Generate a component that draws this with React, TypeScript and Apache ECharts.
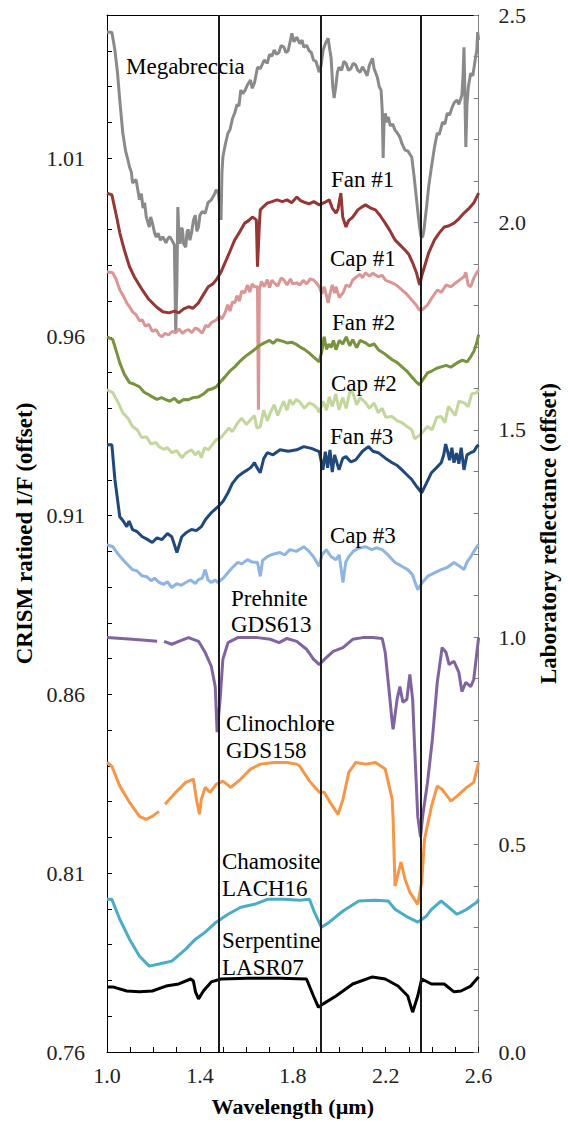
import React, { useEffect, useRef } from "react";
import * as echarts from "echarts";

type Pt = [number, number | null];

const xMin = 1.0;
const xMax = 2.6;
const xLabelValues = [1.0, 1.4, 1.8, 2.2, 2.6];
const leftMin = 0.76;
const leftMax = 1.05;
const leftLabelValues = [0.76, 0.81, 0.86, 0.91, 0.96, 1.01];
const rightMin = 0.0;
const rightMax = 2.5;
const rightLabelValues = [0.0, 0.5, 1.0, 1.5, 2.0, 2.5];
const bandLines = [1.475, 1.915, 2.345];

// ---- CRISM spectra (left axis) ----
const megabreccia: Pt[] = [
  [1.0, 1.0452], [1.021, 1.0452], [1.034, 1.0402], [1.045, 1.034], [1.055, 1.0262], [1.068, 1.017],
  [1.08, 1.012], [1.09, 1.0095], [1.097, 1.0075], [1.105, 1.006], [1.11, 1.003], [1.125, 1.004],
  [1.14, 0.9983], [1.148, 1.0], [1.155, 0.996], [1.162, 0.9975], [1.169, 0.9935], [1.182, 0.9907],
  [1.188, 0.9935], [1.195, 0.992], [1.205, 0.989], [1.212, 0.9879], [1.22, 0.989], [1.23, 0.987],
  [1.24, 0.988], [1.254, 0.9863], [1.262, 0.9875], [1.27, 0.988], [1.279, 0.9871], [1.29, 0.9857],
  [1.296, 0.9611], [1.301, 0.975], [1.305, 0.9963], [1.31, 0.988], [1.315, 0.986], [1.32, 0.9905],
  [1.325, 0.99], [1.33, 0.986], [1.339, 0.9851], [1.345, 0.9895], [1.35, 0.99], [1.357, 0.987],
  [1.364, 0.9891], [1.372, 0.9925], [1.38, 0.994], [1.387, 0.9895], [1.394, 0.9907], [1.4, 0.994],
  [1.41, 0.995], [1.423, 0.9946], [1.435, 0.9975], [1.449, 0.9983], [1.46, 0.9995], [1.47, 1.0011],
  [1.48, 1.0], [1.486, 0.996], [1.491, 0.9927], [1.495, 1.006], [1.499, 1.0103], [1.51, 1.014],
  [1.521, 1.017], [1.53, 1.018], [1.54, 1.021], [1.55, 1.0226], [1.56, 1.025], [1.568, 1.0245],
  [1.576, 1.029], [1.585, 1.028], [1.595, 1.029], [1.605, 1.0305], [1.618, 1.0318], [1.625, 1.0295],
  [1.635, 1.031], [1.648, 1.0354], [1.66, 1.035], [1.677, 1.0374], [1.69, 1.0365], [1.7, 1.039],
  [1.71, 1.0385], [1.72, 1.0402], [1.73, 1.039], [1.74, 1.0395], [1.75, 1.0415], [1.762, 1.041],
  [1.77, 1.0395], [1.78, 1.04], [1.79, 1.043], [1.796, 1.0449], [1.805, 1.0425], [1.817, 1.0438],
  [1.83, 1.042], [1.84, 1.043], [1.847, 1.041], [1.86, 1.0415], [1.87, 1.04], [1.88, 1.0395],
  [1.889, 1.0374], [1.9, 1.037], [1.914, 1.034], [1.922, 1.036], [1.93, 1.04], [1.94, 1.042],
  [1.952, 1.0435], [1.96, 1.04], [1.965, 1.038], [1.972, 1.03], [1.978, 1.0268], [1.985, 1.03],
  [1.992, 1.034], [1.999, 1.0354], [2.01, 1.0345], [2.02, 1.037], [2.029, 1.0365], [2.04, 1.0345],
  [2.05, 1.035], [2.06, 1.0365], [2.071, 1.036], [2.08, 1.0345], [2.09, 1.034], [2.1, 1.0355],
  [2.113, 1.034], [2.12, 1.033], [2.13, 1.036], [2.143, 1.0379], [2.15, 1.035], [2.164, 1.0326],
  [2.172, 1.03], [2.18, 1.029], [2.185, 1.0234], [2.189, 1.01], [2.193, 1.02], [2.198, 1.0225],
  [2.205, 1.02], [2.211, 1.0215], [2.22, 1.019], [2.23, 1.0195], [2.24, 1.0178], [2.25, 1.017],
  [2.26, 1.016], [2.27, 1.014], [2.283, 1.0122], [2.295, 1.012], [2.305, 1.011], [2.312, 1.0103],
  [2.322, 1.005], [2.333, 0.9983], [2.34, 0.994], [2.346, 0.9907], [2.352, 0.988], [2.359, 0.9879],
  [2.365, 0.99], [2.37, 0.993], [2.376, 0.9963], [2.385, 1.002], [2.397, 1.0075], [2.41, 1.013],
  [2.422, 1.017], [2.43, 1.0165], [2.445, 1.02], [2.455, 1.0195], [2.465, 1.0226], [2.475, 1.022],
  [2.485, 1.024], [2.495, 1.0255], [2.507, 1.0262], [2.515, 1.025], [2.528, 1.0276], [2.533, 1.033],
  [2.537, 1.041], [2.541, 1.028], [2.545, 1.0131], [2.55, 1.025], [2.556, 1.03], [2.566, 1.0337],
  [2.575, 1.033], [2.587, 1.0382], [2.592, 1.04], [2.596, 1.0452], [2.6, 1.043],
];

const fan1: Pt[] = [
  [1.0, 1.0002], [1.021, 0.9997], [1.04, 0.994], [1.055, 0.9891], [1.075, 0.9842], [1.097, 0.9796],
  [1.12, 0.9765], [1.152, 0.9731], [1.18, 0.9705], [1.212, 0.9684], [1.24, 0.967], [1.267, 0.9667],
  [1.29, 0.9672], [1.309, 0.9667], [1.33, 0.9678], [1.351, 0.9684], [1.37, 0.968], [1.394, 0.9695],
  [1.415, 0.9718], [1.436, 0.974], [1.455, 0.9748], [1.47, 0.9759], [1.49, 0.978], [1.508, 0.9807],
  [1.53, 0.984], [1.55, 0.9871], [1.57, 0.9892], [1.593, 0.9918], [1.61, 0.9925], [1.626, 0.9935],
  [1.643, 0.9927], [1.648, 0.9796], [1.656, 0.9913], [1.66, 0.9955], [1.675, 0.9965], [1.69, 0.9974],
  [1.71, 0.9978], [1.732, 0.9983], [1.755, 0.9978], [1.775, 0.9983], [1.795, 0.9975], [1.817, 0.9991],
  [1.835, 0.998], [1.847, 0.9977], [1.87, 0.9972], [1.89, 0.9978], [1.914, 0.9969], [1.935, 0.9975],
  [1.957, 0.9983], [1.97, 0.996], [1.986, 0.9946], [1.995, 0.9958], [2.007, 1.0002], [2.015, 0.9935],
  [2.029, 0.9907], [2.04, 0.9925], [2.058, 0.9935], [2.08, 0.9955], [2.095, 0.9962], [2.113, 0.9969],
  [2.135, 0.996], [2.156, 0.9955], [2.175, 0.994], [2.198, 0.9918], [2.22, 0.9895], [2.24, 0.9871],
  [2.26, 0.9858], [2.283, 0.9843], [2.3, 0.983], [2.316, 0.9807], [2.332, 0.978], [2.346, 0.9745],
  [2.355, 0.977], [2.367, 0.9796], [2.385, 0.9835], [2.41, 0.9871], [2.43, 0.989], [2.452, 0.9907],
  [2.47, 0.991], [2.494, 0.9918], [2.515, 0.993], [2.537, 0.9946], [2.56, 0.996], [2.579, 0.9974],
  [2.6, 1.0002],
];

const cap1: Pt[] = [
  [1.0, 0.9782], [1.025, 0.9779], [1.04, 0.976], [1.055, 0.9731], [1.07, 0.9715], [1.085, 0.9695],
  [1.097, 0.9684], [1.11, 0.967], [1.125, 0.9662], [1.14, 0.9645], [1.152, 0.9647], [1.165, 0.963],
  [1.18, 0.9635], [1.195, 0.9615], [1.212, 0.962], [1.225, 0.9605], [1.237, 0.96], [1.25, 0.961],
  [1.265, 0.9605], [1.28, 0.9615], [1.296, 0.9611], [1.31, 0.9622], [1.325, 0.961], [1.34, 0.9618],
  [1.351, 0.962], [1.365, 0.9612], [1.38, 0.9625], [1.394, 0.962], [1.41, 0.961], [1.425, 0.9632],
  [1.436, 0.9628], [1.45, 0.964], [1.47, 0.9647], [1.485, 0.9658], [1.495, 0.965], [1.508, 0.9667],
  [1.52, 0.969], [1.53, 0.9672], [1.54, 0.9698], [1.55, 0.9695], [1.56, 0.9715], [1.57, 0.97],
  [1.58, 0.9728], [1.593, 0.9723], [1.605, 0.9745], [1.615, 0.9725], [1.625, 0.9748], [1.635, 0.974],
  [1.648, 0.974], [1.652, 0.9396], [1.656, 0.9731], [1.665, 0.9755], [1.677, 0.974], [1.69, 0.976],
  [1.7, 0.9738], [1.71, 0.9758], [1.72, 0.9751], [1.735, 0.9742], [1.75, 0.9765], [1.762, 0.9759],
  [1.775, 0.9745], [1.79, 0.9762], [1.8, 0.9748], [1.817, 0.9751], [1.83, 0.9745], [1.845, 0.9758],
  [1.86, 0.9748], [1.875, 0.9762], [1.889, 0.9759], [1.9, 0.9752], [1.914, 0.974], [1.925, 0.972],
  [1.935, 0.974], [1.945, 0.9715], [1.952, 0.9695], [1.96, 0.972], [1.97, 0.9745], [1.98, 0.9722],
  [1.986, 0.974], [2.0, 0.971], [2.016, 0.9723], [2.03, 0.9745], [2.045, 0.974], [2.058, 0.9759],
  [2.075, 0.9768], [2.09, 0.9775], [2.1, 0.9765], [2.113, 0.9779], [2.13, 0.977], [2.145, 0.9778],
  [2.168, 0.9768], [2.185, 0.9772], [2.2, 0.9758], [2.228, 0.9751], [2.245, 0.9745], [2.27, 0.9731],
  [2.29, 0.972], [2.312, 0.9703], [2.33, 0.969], [2.345, 0.9675], [2.355, 0.9675], [2.365, 0.968],
  [2.38, 0.9689], [2.4, 0.971], [2.422, 0.9731], [2.44, 0.9725], [2.46, 0.9745], [2.481, 0.974],
  [2.5, 0.975], [2.52, 0.976], [2.537, 0.9768], [2.545, 0.978], [2.555, 0.9745], [2.566, 0.974],
  [2.58, 0.9765], [2.592, 0.9779], [2.6, 0.9787],
];

const fan2: Pt[] = [
  [1.0, 0.96], [1.025, 0.9592], [1.04, 0.956], [1.055, 0.9527], [1.075, 0.9495], [1.097, 0.9472],
  [1.115, 0.9468], [1.14, 0.946], [1.16, 0.9445], [1.175, 0.944], [1.195, 0.9432], [1.215, 0.9425],
  [1.235, 0.943], [1.254, 0.9424], [1.27, 0.942], [1.29, 0.9428], [1.309, 0.9416], [1.33, 0.9425],
  [1.351, 0.9424], [1.37, 0.943], [1.394, 0.9432], [1.415, 0.944], [1.436, 0.9452], [1.455, 0.9455],
  [1.47, 0.946], [1.49, 0.9475], [1.508, 0.9488], [1.53, 0.9505], [1.55, 0.9516], [1.57, 0.953],
  [1.593, 0.9544], [1.61, 0.9552], [1.635, 0.9564], [1.655, 0.9575], [1.677, 0.9583], [1.7, 0.959],
  [1.715, 0.9582], [1.732, 0.9592], [1.755, 0.9588], [1.775, 0.9583], [1.795, 0.9585], [1.817, 0.9578],
  [1.83, 0.9572], [1.85, 0.9565], [1.87, 0.9555], [1.889, 0.9544], [1.905, 0.9535], [1.914, 0.953],
  [1.925, 0.956], [1.935, 0.96], [1.945, 0.9565], [1.955, 0.958], [1.965, 0.957], [1.975, 0.959],
  [1.986, 0.9564], [2.0, 0.959], [2.015, 0.958], [2.03, 0.96], [2.045, 0.9575], [2.058, 0.9592],
  [2.075, 0.957], [2.09, 0.959], [2.113, 0.9583], [2.13, 0.9575], [2.15, 0.958], [2.168, 0.9564],
  [2.19, 0.9555], [2.21, 0.9545], [2.228, 0.9536], [2.25, 0.9528], [2.27, 0.9516], [2.29, 0.9505],
  [2.312, 0.9488], [2.33, 0.9475], [2.346, 0.9466], [2.36, 0.948], [2.38, 0.9499], [2.4, 0.9505],
  [2.42, 0.9512], [2.439, 0.9516], [2.46, 0.952], [2.48, 0.9515], [2.507, 0.9527], [2.53, 0.9535],
  [2.55, 0.953], [2.566, 0.9544], [2.58, 0.956], [2.592, 0.9583], [2.6, 0.9606],
];

const cap2: Pt[] = [
  [1.0, 0.9452], [1.025, 0.9444], [1.045, 0.942], [1.068, 0.9388], [1.09, 0.9372], [1.11, 0.9349],
  [1.13, 0.934], [1.15, 0.9318], [1.169, 0.9321], [1.19, 0.93], [1.21, 0.9305], [1.224, 0.9293],
  [1.245, 0.9285], [1.26, 0.929], [1.279, 0.9276], [1.3, 0.9282], [1.322, 0.9262], [1.34, 0.9275],
  [1.364, 0.9284], [1.38, 0.927], [1.395, 0.928], [1.406, 0.9262], [1.42, 0.929], [1.436, 0.9284],
  [1.455, 0.93], [1.47, 0.9312], [1.49, 0.9318], [1.508, 0.9332], [1.525, 0.9345], [1.54, 0.9335],
  [1.563, 0.936], [1.58, 0.9372], [1.6, 0.9355], [1.618, 0.9368], [1.635, 0.938], [1.645, 0.9345],
  [1.66, 0.9349], [1.675, 0.9395], [1.69, 0.9365], [1.703, 0.9388], [1.72, 0.941], [1.735, 0.938],
  [1.745, 0.9396], [1.76, 0.942], [1.775, 0.9395], [1.787, 0.9424], [1.8, 0.941], [1.815, 0.9425],
  [1.83, 0.9418], [1.85, 0.94], [1.87, 0.9415], [1.889, 0.941], [1.905, 0.94], [1.914, 0.9388],
  [1.93, 0.942], [1.945, 0.9395], [1.957, 0.9432], [1.97, 0.9405], [1.985, 0.944], [1.999, 0.9396],
  [2.015, 0.943], [2.03, 0.94], [2.045, 0.9445], [2.058, 0.9444], [2.075, 0.941], [2.09, 0.943],
  [2.113, 0.9416], [2.13, 0.94], [2.15, 0.9415], [2.168, 0.9388], [2.185, 0.94], [2.2, 0.9375],
  [2.228, 0.9377], [2.25, 0.9365], [2.27, 0.936], [2.29, 0.935], [2.312, 0.934], [2.325, 0.9315],
  [2.338, 0.9321], [2.355, 0.933], [2.38, 0.9349], [2.4, 0.934], [2.42, 0.9375], [2.439, 0.9377],
  [2.455, 0.936], [2.47, 0.9405], [2.481, 0.9396], [2.5, 0.938], [2.515, 0.942], [2.537, 0.9416],
  [2.555, 0.9405], [2.57, 0.944], [2.592, 0.9444], [2.6, 0.9452],
];

const fan3: Pt[] = [
  [1.0, 0.9298], [1.021, 0.9298], [1.034, 0.9201], [1.055, 0.9097], [1.07, 0.9085], [1.085, 0.9069],
  [1.095, 0.9085], [1.11, 0.9061], [1.13, 0.9055], [1.152, 0.9041], [1.17, 0.9035], [1.195, 0.9025],
  [1.215, 0.9038], [1.237, 0.9033], [1.26, 0.905], [1.279, 0.9041], [1.301, 0.8997], [1.322, 0.9041],
  [1.34, 0.9052], [1.364, 0.9061], [1.385, 0.9058], [1.406, 0.9069], [1.425, 0.909], [1.449, 0.9108],
  [1.478, 0.9125], [1.5, 0.914], [1.521, 0.9164], [1.54, 0.919], [1.563, 0.9209], [1.585, 0.922],
  [1.605, 0.9228], [1.62, 0.9235], [1.635, 0.9248], [1.645, 0.9235], [1.66, 0.922], [1.675, 0.926],
  [1.69, 0.9276], [1.715, 0.927], [1.745, 0.9284], [1.78, 0.928], [1.817, 0.9284], [1.847, 0.9293],
  [1.88, 0.9288], [1.914, 0.9279], [1.93, 0.9228], [1.94, 0.9279], [1.95, 0.9234], [1.96, 0.9284],
  [1.97, 0.9222], [1.98, 0.927], [1.999, 0.9228], [2.015, 0.926], [2.029, 0.9265], [2.05, 0.925],
  [2.071, 0.9256], [2.1, 0.928], [2.126, 0.9293], [2.145, 0.928], [2.168, 0.9276], [2.2, 0.926],
  [2.228, 0.9248], [2.25, 0.924], [2.27, 0.9228], [2.29, 0.9215], [2.312, 0.9201], [2.335, 0.918],
  [2.355, 0.9164], [2.375, 0.919], [2.397, 0.922], [2.42, 0.9235], [2.439, 0.9248], [2.45, 0.927],
  [2.458, 0.93], [2.465, 0.9284], [2.475, 0.9255], [2.485, 0.929], [2.494, 0.9248], [2.505, 0.9275],
  [2.515, 0.9245], [2.525, 0.929], [2.537, 0.9228], [2.55, 0.927], [2.566, 0.9276], [2.58, 0.928],
  [2.592, 0.9293], [2.6, 0.9298],
];

const cap3: Pt[] = [
  [1.0, 0.9019], [1.025, 0.9013], [1.045, 0.8995], [1.068, 0.8977], [1.09, 0.8962], [1.11, 0.8949],
  [1.13, 0.8945], [1.15, 0.8932], [1.169, 0.893], [1.19, 0.8918], [1.205, 0.8925], [1.224, 0.8913],
  [1.245, 0.8908], [1.26, 0.8915], [1.279, 0.8899], [1.3, 0.891], [1.32, 0.8905], [1.339, 0.8913],
  [1.36, 0.892], [1.38, 0.891], [1.394, 0.8921], [1.41, 0.8925], [1.423, 0.8949], [1.435, 0.892],
  [1.449, 0.8913], [1.465, 0.892], [1.478, 0.8913], [1.5, 0.8925], [1.521, 0.8941], [1.54, 0.8955],
  [1.563, 0.8969], [1.58, 0.8965], [1.605, 0.8977], [1.625, 0.897], [1.648, 0.8969], [1.66, 0.893],
  [1.67, 0.8975], [1.69, 0.8985], [1.715, 0.8992], [1.745, 0.8997], [1.765, 0.899], [1.787, 0.9005],
  [1.815, 0.9], [1.847, 0.9013], [1.87, 0.9], [1.889, 0.8985], [1.914, 0.8958], [1.925, 0.899],
  [1.944, 0.9005], [1.965, 0.8985], [1.986, 0.8977], [2.0, 0.899], [2.016, 0.8913], [2.028, 0.897],
  [2.041, 0.8985], [2.06, 0.9], [2.08, 0.9008], [2.113, 0.9013], [2.14, 0.9005], [2.16, 0.901],
  [2.185, 0.9005], [2.21, 0.899], [2.24, 0.8969], [2.265, 0.896], [2.295, 0.8949], [2.315, 0.8935],
  [2.338, 0.8893], [2.36, 0.8915], [2.38, 0.893], [2.41, 0.894], [2.439, 0.8949], [2.465, 0.8955],
  [2.494, 0.8969], [2.515, 0.896], [2.537, 0.8949], [2.55, 0.897], [2.566, 0.8985], [2.592, 0.9013],
  [2.6, 0.9019],
];

// ---- Laboratory spectra (right axis) ----
const prehnite: Pt[] = [
  [1.0, 0.999], [1.11, 0.995], [1.216, 0.99], [1.23, null], [1.246, 0.99], [1.279, 0.983], [1.309, 0.99],
  [1.351, 0.999], [1.394, 0.99], [1.423, 0.963], [1.449, 0.93], [1.466, 0.881], [1.474, 0.771],
  [1.487, 0.85], [1.499, 0.947], [1.521, 0.987], [1.563, 0.999], [1.648, 0.999], [1.703, 0.995],
  [1.741, 0.987], [1.775, 0.997], [1.817, 0.99], [1.859, 0.971], [1.889, 0.947], [1.914, 0.934],
  [1.944, 0.951], [1.974, 0.966], [2.016, 0.975], [2.058, 0.995], [2.101, 0.999], [2.143, 0.999],
  [2.185, 0.997], [2.198, 0.963], [2.211, 0.891], [2.228, 0.795], [2.232, 0.778], [2.249, 0.85],
  [2.261, 0.881], [2.274, 0.843], [2.291, 0.85], [2.304, 0.91], [2.316, 0.85], [2.325, 0.73],
  [2.338, 0.568], [2.35, 0.518], [2.359, 0.568], [2.38, 0.65], [2.401, 0.754], [2.422, 0.891],
  [2.443, 0.975], [2.46, 0.963], [2.473, 0.934], [2.494, 0.942], [2.515, 0.915], [2.528, 0.869],
  [2.545, 0.891], [2.566, 0.881], [2.579, 0.898], [2.6, 0.999],
];

const clinochlore: Pt[] = [
  [1.0, 0.698], [1.021, 0.689], [1.055, 0.641], [1.097, 0.602], [1.14, 0.568], [1.169, 0.561],
  [1.195, 0.568], [1.224, 0.58], [1.237, null], [1.25, 0.597], [1.296, 0.626], [1.339, 0.65],
  [1.372, 0.658], [1.385, 0.609], [1.398, 0.573], [1.406, 0.609], [1.423, 0.638], [1.444, 0.626],
  [1.47, 0.645], [1.499, 0.653], [1.533, 0.638], [1.576, 0.658], [1.618, 0.682], [1.66, 0.694],
  [1.72, 0.698], [1.775, 0.698], [1.817, 0.694], [1.83, 0.689], [1.872, 0.653], [1.914, 0.626],
  [1.935, 0.626], [1.957, 0.605], [1.995, 0.573], [2.016, 0.609], [2.041, 0.674], [2.071, 0.698],
  [2.113, 0.694], [2.156, 0.698], [2.198, 0.682], [2.228, 0.609], [2.232, 0.561], [2.24, 0.4],
  [2.253, 0.429], [2.266, 0.458], [2.283, 0.417], [2.304, 0.385], [2.338, 0.356], [2.355, 0.409],
  [2.367, 0.513], [2.397, 0.592], [2.422, 0.641], [2.443, 0.633], [2.481, 0.605], [2.507, 0.617],
  [2.549, 0.638], [2.579, 0.65], [2.6, 0.698],
];

const chamosite: Pt[] = [
  [1.0, 0.368], [1.021, 0.368], [1.055, 0.32], [1.097, 0.272], [1.14, 0.231], [1.182, 0.207],
  [1.224, 0.212], [1.279, 0.219], [1.339, 0.248], [1.381, 0.272], [1.423, 0.289], [1.47, 0.313],
  [1.521, 0.332], [1.576, 0.349], [1.635, 0.356], [1.69, 0.368], [1.762, 0.368], [1.83, 0.366],
  [1.872, 0.368], [1.893, 0.337], [1.923, 0.301], [1.957, 0.313], [2.016, 0.34], [2.084, 0.364],
  [2.156, 0.366], [2.211, 0.364], [2.24, 0.344], [2.295, 0.325], [2.338, 0.313], [2.376, 0.328],
  [2.397, 0.344], [2.439, 0.364], [2.465, 0.352], [2.507, 0.332], [2.549, 0.344], [2.592, 0.361],
  [2.6, 0.368],
];

const serpentine: Pt[] = [
  [1.0, 0.157], [1.025, 0.157], [1.085, 0.147], [1.14, 0.145], [1.195, 0.147], [1.254, 0.159],
  [1.309, 0.164], [1.36, 0.176], [1.372, 0.171], [1.381, 0.145], [1.394, 0.128], [1.415, 0.147],
  [1.449, 0.169], [1.491, 0.176], [1.605, 0.178], [1.745, 0.178], [1.859, 0.176], [1.889, 0.135],
  [1.91, 0.108], [1.931, 0.116], [1.986, 0.135], [2.058, 0.164], [2.143, 0.181], [2.198, 0.176],
  [2.253, 0.159], [2.295, 0.135], [2.316, 0.096], [2.338, 0.135], [2.355, 0.176], [2.397, 0.164],
  [2.452, 0.164], [2.494, 0.145], [2.524, 0.147], [2.566, 0.159], [2.592, 0.176], [2.6, 0.181],
];

const FONT = "Liberation Serif, serif";

const crismSeries = [
  { name: "Megabreccia", data: megabreccia, color: "#8a8a8a" },
  { name: "Fan #1", data: fan1, color: "#953735" },
  { name: "Cap #1", data: cap1, color: "#d99694" },
  { name: "Fan #2", data: fan2, color: "#77933c" },
  { name: "Cap #2", data: cap2, color: "#c3d69b" },
  { name: "Fan #3", data: fan3, color: "#1f497d" },
  { name: "Cap #3", data: cap3, color: "#8eb4e3" },
];

const labSeries = [
  { name: "Prehnite GDS613", data: prehnite, color: "#8064a2" },
  { name: "Clinochlore GDS158", data: clinochlore, color: "#f79646" },
  { name: "Chamosite LACH16", data: chamosite, color: "#4bacc6" },
  { name: "Serpentine LASR07", data: serpentine, color: "#000000" },
];

const annotations: [string, number, number][] = [
  ["Megabreccia", 126, 66],
  ["Fan #1", 331, 179],
  ["Cap #1", 330, 258],
  ["Fan #2", 332, 322],
  ["Cap #2", 331, 383],
  ["Fan #3", 330, 436],
  ["Cap #3", 330, 535],
  ["Prehnite", 231, 598],
  ["GDS613", 231, 624],
  ["Clinochlore", 226, 723],
  ["GDS158", 226, 750],
  ["Chamosite", 222, 861],
  ["LACH16", 222, 888],
  ["Serpentine", 222, 940],
  ["LASR07", 222, 967],
];

const near = (v: number, list: number[], eps: number) => list.some((l) => Math.abs(l - v) < eps);

export default function App() {
  const ref = useRef<HTMLDivElement>(null);
  useEffect(() => {
    if (!ref.current) return;
    const chart = echarts.init(ref.current, null, { renderer: "svg" });
    const lineSeries = (s: { name: string; data: Pt[]; color: string }, yIdx: number) => ({
      name: s.name,
      type: "line",
      xAxisIndex: 0,
      yAxisIndex: yIdx,
      data: s.data,
      showSymbol: false,
      symbol: "none",
      connectNulls: false,
      lineStyle: { color: s.color, width: 3 },
      itemStyle: { color: s.color },
      z: 2,
    });
    const series: any[] = [
      ...crismSeries.map((s) => lineSeries(s, 0)),
      ...labSeries.map((s) => lineSeries(s, 1)),
      {
        name: "bands",
        type: "line",
        xAxisIndex: 0,
        yAxisIndex: 1,
        data: [],
        z: 5,
        markLine: {
          silent: true,
          symbol: ["none", "none"],
          label: { show: false },
          lineStyle: { color: "#1a1a1a", width: 2, type: "solid" },
          data: bandLines.map((b) => ({ xAxis: b })),
        },
      },
    ];
    chart.setOption({
      animation: false,
      backgroundColor: "#ffffff",
      textStyle: { fontFamily: FONT },
      grid: { left: 107, right: 83, top: 15, bottom: 69, containLabel: false },
      xAxis: [
        {
          type: "value",
          min: xMin,
          max: xMax,
          interval: 0.1,
          position: "bottom",
          axisLine: { show: true, lineStyle: { color: "#000", width: 1 } },
          axisTick: { show: true, inside: true, length: 5, lineStyle: { color: "#000" } },
          axisLabel: {
            margin: 12,
            fontSize: 22,
            fontFamily: FONT,
            color: "#222",
            formatter: (v: number) => (near(v, xLabelValues, 1e-6) ? v.toFixed(1) : ""),
          },
          splitLine: { show: false },
          name: "Wavelength (µm)",
          nameLocation: "middle",
          nameGap: 43,
          nameTextStyle: { fontFamily: FONT, fontSize: 22, fontWeight: "bold", color: "#000" },
        },
        {
          type: "value",
          min: xMin,
          max: xMax,
          position: "top",
          axisLine: { show: true, lineStyle: { color: "#000", width: 1 } },
          axisTick: { show: false },
          axisLabel: { show: false },
          splitLine: { show: false },
        },
      ],
      yAxis: [
        {
          type: "value",
          min: leftMin,
          max: leftMax,
          interval: 0.01,
          position: "left",
          axisLine: { show: true, lineStyle: { color: "#000", width: 1 } },
          axisTick: { show: true, inside: true, length: 5, lineStyle: { color: "#000" } },
          axisLabel: {
            margin: 22,
            fontSize: 22,
            fontFamily: FONT,
            color: "#222",
            formatter: (v: number) => (near(v, leftLabelValues, 1e-6) ? v.toFixed(2) : ""),
          },
          splitLine: { show: false },
          name: "CRISM ratioed I/F (offset)",
          nameLocation: "middle",
          nameGap: 70,
          nameRotate: 90,
          nameTextStyle: { fontFamily: FONT, fontSize: 23, fontWeight: "bold", color: "#000" },
        },
        {
          type: "value",
          min: rightMin,
          max: rightMax,
          interval: 0.1,
          position: "right",
          axisLine: { show: true, lineStyle: { color: "#7f7f7f", width: 1 } },
          axisTick: { show: true, inside: true, length: 5, lineStyle: { color: "#7f7f7f" } },
          axisLabel: {
            margin: 20,
            fontSize: 22,
            fontFamily: FONT,
            color: "#222",
            formatter: (v: number) => (near(v, rightLabelValues, 1e-6) ? v.toFixed(1) : ""),
          },
          splitLine: { show: false },
          name: "Laboratory reflectance (offset)",
          nameLocation: "middle",
          nameGap: 52,
          nameRotate: 90,
          nameTextStyle: { fontFamily: FONT, fontSize: 23, fontWeight: "bold", color: "#000" },
        },
      ],
      graphic: annotations.map(([t, x, y]) => ({
        type: "text",
        x,
        y,
        z: 10,
        style: {
          text: t,
          fontFamily: FONT,
          fontSize: 23,
          fill: "#000",
          verticalAlign: "middle",
          align: "left",
        },
      })),
      series,
    });
    return () => chart.dispose();
  }, []);
  return (
    <div
      ref={ref}
      style={{ position: "absolute", left: 0, top: 0, width: 568, height: 1122 }}
    />
  );
}
